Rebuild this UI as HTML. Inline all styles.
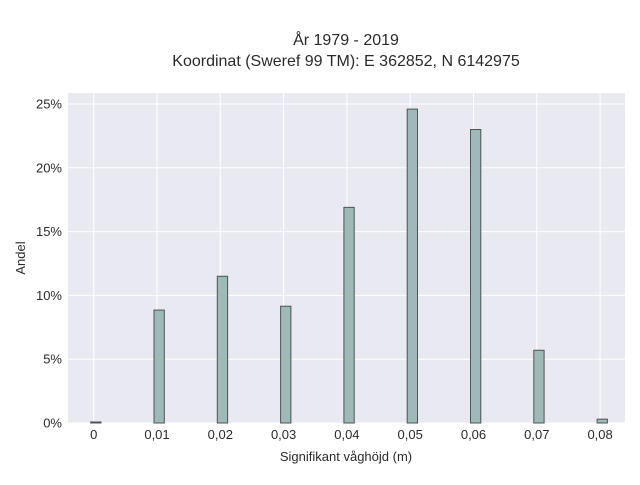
<!DOCTYPE html>
<html><head><meta charset="utf-8"><style>
body{margin:0;background:#fff;}
svg text{font-family:"Liberation Sans",sans-serif;fill:#2a2a2a;}
</style></head><body>
<svg id="chart" width="640" height="480">
<text x="346" y="45" text-anchor="middle" font-size="16">År 1979 - 2019</text>
<text x="346" y="66" text-anchor="middle" font-size="16">Koordinat (Sweref 99 TM): E 362852, N 6142975</text>
<rect x="68" y="93" width="557" height="330" fill="#e9e9f1"/>
<g id="grid"></g><g id="bars"></g><g id="ticks"></g>
<text x="346" y="461" text-anchor="middle" font-size="13">Signifikant våghöjd (m)</text>
<text transform="translate(25,258) rotate(-90)" text-anchor="middle" font-size="13">Andel</text>
</svg>
<script>
const categories=[0,0.01,0.02,0.03,0.04,0.05,0.06,0.07,0.08];
const values=[0.08,8.85,11.5,9.15,16.9,24.6,23.0,5.7,0.3];
const xTicks=[0,0.01,0.02,0.03,0.04,0.05,0.06,0.07,0.08];
const xTickLabels=["0","0,01","0,02","0,03","0,04","0,05","0,06","0,07","0,08"];
const yTicks=[0,5,10,15,20,25];
const yTickLabels=["0%","5%","10%","15%","20%","25%"];
const NS="http://www.w3.org/2000/svg";
const x=v=>93.7+v/0.01*63.3;
const y=v=>423-v*12.76;
function mk(t,a,p){const e=document.createElementNS(NS,t);for(const k in a)e.setAttribute(k,a[k]);p.appendChild(e);return e;}
const G=document.getElementById('grid'),B=document.getElementById('bars'),T=document.getElementById('ticks');
xTicks.forEach((v,i)=>{
 const l=mk('line',{x1:x(v),x2:x(v),y1:93,y2:423,stroke:'#fff','stroke-width':1},G);
 
 
 const t=mk('text',{x:x(v),y:439,'text-anchor':'middle','font-size':13},T);t.textContent=xTickLabels[i];
 
 
});
yTicks.forEach((v,i)=>{
 const l=mk('line',{x1:68,x2:625,y1:y(v),y2:y(v),stroke:'#fff','stroke-width':1},G);
 
 
 const t=mk('text',{x:62,y:y(v)+4.5,'text-anchor':'end','font-size':13},T);t.textContent=yTickLabels[i];
 
 
});
categories.forEach((c,i)=>{
 const top=y(values[i]);
 const r=mk('rect',{x:x(c)-3,y:top,width:10.3,height:423-top,fill:'#9fb8b8',stroke:'#4a5456','stroke-width':1},B);
 
 
});
</script>
</body></html>
